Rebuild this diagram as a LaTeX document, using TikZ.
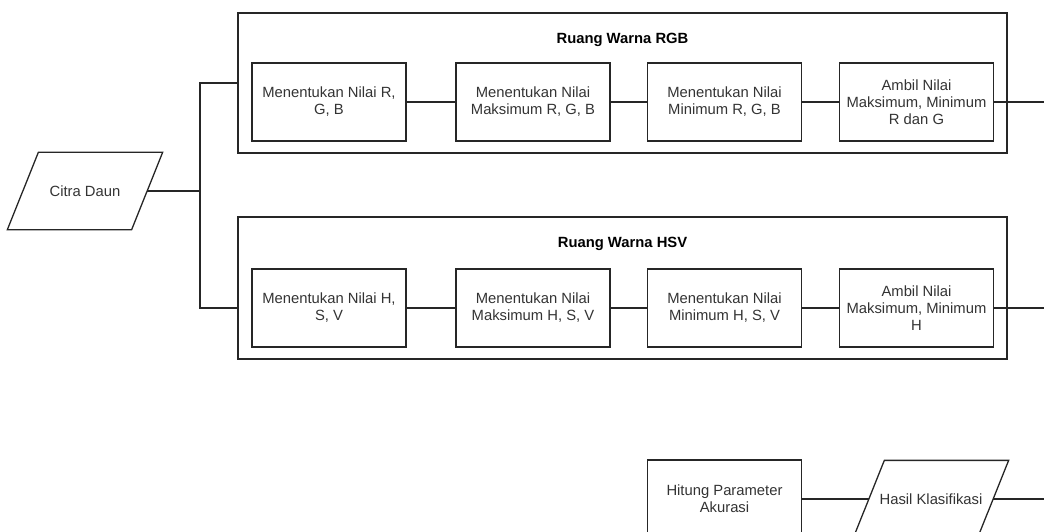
\documentclass[tikz,border=0pt]{standalone}
\usepackage{fontspec}
\setmainfont{Liberation Sans}

% garis jajar genjang di sekeliling node data
\newcommand{\jajargenjang}[1]{\draw ([xshift=31pt]#1.north west) -- (#1.north east)
	-- ([xshift=-31pt]#1.south east) -- (#1.south west) -- cycle;}

\begin{document}
\begin{tikzpicture}[x=1pt,y=-1pt,line width=1.3pt,draw=black!85,
	every node/.style={font=\fontsize{14.8}{17}\selectfont,text=black!80},
	langkah/.style={draw=black!85,minimum width=154pt,minimum height=78pt,align=center,inner sep=0pt},
	ruang/.style={draw=black!85,minimum width=769pt,inner sep=0pt},
	judul/.style={font=\bfseries\fontsize{14.8}{17}\selectfont,text=black},
	data/.style={minimum width=154pt,minimum height=76pt,inner sep=0pt}]

	\useasboundingbox (0,0) rectangle (1044,532);
	\clip (0,0) rectangle (1044,532);

	% input
	\node[data] (citra) at (85,191) {Citra Daun};
	\jajargenjang{citra}
	\coordinate (citrakanan) at ([xshift=-15.5pt]citra.east);
	\coordinate (cabang) at (200,191);

	% ruang warna RGB
	\node[ruang,minimum height=140pt] (rgbgroup) at (622.5,83) {};
	\node[judul] (rgbjudul) at (622.5,40) {Ruang Warna RGB};
	\node[langkah] (rgb1) at (329,102) {Menentukan Nilai R,\\G, B};
	\node[langkah] (rgb2) at (533,102) {Menentukan Nilai\\Maksimum R, G, B};
	\node[langkah] (rgb3) at (724.5,102) {Menentukan Nilai\\Minimum R, G, B};
	\node[langkah] (rgb4) at (916.5,102) {Ambil Nilai\\Maksimum, Minimum\\R dan G};
	\coordinate (rgbkeluar) at (1050,102);

	% ruang warna HSV
	\node[ruang,minimum height=142pt] (hsvgroup) at (622.5,288) {};
	\node[judul] (hsvjudul) at (622.5,244) {Ruang Warna HSV};
	\node[langkah] (hsv1) at (329,308) {Menentukan Nilai H,\\S, V};
	\node[langkah] (hsv2) at (533,308) {Menentukan Nilai\\Maksimum H, S, V};
	\node[langkah] (hsv3) at (724.5,308) {Menentukan Nilai\\Minimum H, S, V};
	\node[langkah] (hsv4) at (916.5,308) {Ambil Nilai\\Maksimum, Minimum\\H};
	\coordinate (hsvkeluar) at (1050,308);

	% hasil
	\node[langkah] (hitung) at (724.5,499) {Hitung Parameter\\Akurasi};
	\node[data] (hasil) at (931,499) {Hasil Klasifikasi};
	\jajargenjang{hasil}
	\coordinate (hasilkiri) at ([xshift=15.5pt]hasil.west);
	\coordinate (hasilkanan) at ([xshift=-15.5pt]hasil.east);
	\coordinate (hasilkeluar) at (1050,499);

	\draw (citrakanan) -- (cabang);
	\draw (cabang) |- (rgbgroup.west);
	\draw (cabang) |- (hsvgroup.west |- hsv1);

	\draw (rgb1) -- (rgb2);
	\draw (rgb2) -- (rgb3);
	\draw (rgb3) -- (rgb4);
	\draw (rgb4) -- (rgbkeluar);

	\draw (hsv1) -- (hsv2);
	\draw (hsv2) -- (hsv3);
	\draw (hsv3) -- (hsv4);
	\draw (hsv4) -- (hsvkeluar);

	\draw (hitung) -- (hasilkiri);
	\draw (hasilkanan) -- (hasilkeluar);
\end{tikzpicture}
\end{document}
